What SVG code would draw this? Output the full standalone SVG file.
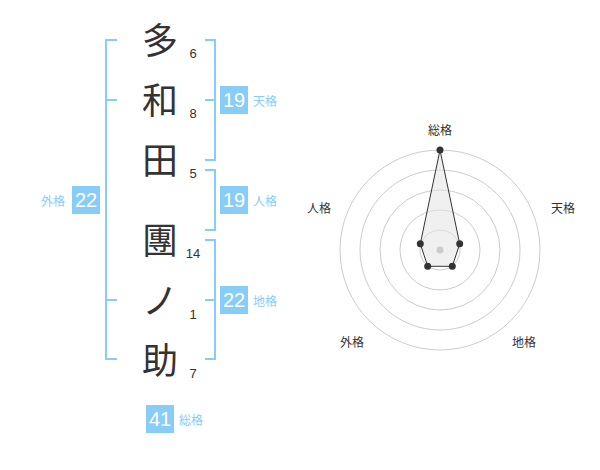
<svg xmlns="http://www.w3.org/2000/svg" width="600" height="470" viewBox="0 0 600 470">
<style>
.k{font-family:"Noto Sans CJK JP","Noto Sans CJK SC",sans-serif;font-size:36px;fill:#333;text-anchor:middle}
.n{font-family:"Liberation Sans",Arial,sans-serif;font-size:13px;fill:#333;text-anchor:middle}
.br{fill:none;stroke:#88ccf8;stroke-width:2}
.box{fill:#88ccf8}
.bt{font-family:"Liberation Sans",Arial,sans-serif;font-size:20px;fill:#fff;text-anchor:middle}
.lb{font-family:"Noto Sans CJK JP","Noto Sans CJK SC",sans-serif;font-size:12px;fill:#88ccf8}
.rl{font-family:"Noto Sans CJK JP","Noto Sans CJK SC",sans-serif;font-size:12px;fill:#333;text-anchor:middle}
.ring{fill:none;stroke:#ccc;stroke-width:1}
.dot{fill:#333}
</style>
<rect width="600" height="470" fill="#fff"/>
<g id="name">
<g id="c1"><text class="k" x="160" y="54">多</text><text class="n" x="193" y="58">6</text></g>
<g id="c2"><text class="k" x="160" y="114">和</text><text class="n" x="193" y="118">8</text></g>
<g id="c3"><text class="k" x="160" y="174">田</text><text class="n" x="193" y="178">5</text></g>
<g id="c4"><text class="k" x="160" y="254">團</text><text class="n" x="193" y="258">14</text></g>
<g id="c5"><text class="k" x="160" y="314">ノ</text><text class="n" x="193" y="319">1</text></g>
<g id="c6"><text class="k" x="160" y="374">助</text><text class="n" x="193" y="378">7</text></g>
</g>
<g id="connectors">
<path class="br" d="M117,40H106V359H117M106,100H117M106,300H117"/>
<path class="br" d="M205,40H215V160H205M205,100H215"/>
<path class="br" d="M205,170H215V230H205"/>
<path class="br" d="M205,240H215V359H205M205,300H215"/>
</g>
<g id="tenkaku"><rect class="box" x="220" y="86" width="28" height="28"/><text class="bt" x="234" y="107">19</text><text class="lb" x="253" y="106">天格</text></g>
<g id="jinkaku"><rect class="box" x="220" y="186" width="28" height="28"/><text class="bt" x="234" y="207">19</text><text class="lb" x="253" y="206">人格</text></g>
<g id="chikaku"><rect class="box" x="220" y="286" width="28" height="28"/><text class="bt" x="234" y="307">22</text><text class="lb" x="253" y="306">地格</text></g>
<g id="gaikaku"><rect class="box" x="72" y="186" width="28" height="28"/><text class="bt" x="86" y="207">22</text><text class="lb" x="41" y="206">外格</text></g>
<g id="soukaku"><rect class="box" x="146" y="405" width="28" height="28"/><text class="bt" x="160" y="426">41</text><text class="lb" x="179" y="425">総格</text></g>
<g id="radar">
<circle class="ring" cx="440" cy="250" r="20"/>
<circle class="ring" cx="440" cy="250" r="40"/>
<circle class="ring" cx="440" cy="250" r="60"/>
<circle class="ring" cx="440" cy="250" r="80"/>
<circle class="ring" cx="440" cy="250" r="100"/>
<polygon points="440,150 459.7,243.8 452.3,266.3 427.7,266.3 420.3,243.8" fill="#e6e6e6" fill-opacity="0.6" stroke="#333" stroke-width="1"/>
<circle cx="440" cy="250" r="3.5" fill="#ccc"/>
<circle class="dot" cx="440" cy="150" r="3.5"/>
<circle class="dot" cx="459.7" cy="243.8" r="3.5"/>
<circle class="dot" cx="452.3" cy="266.3" r="3.5"/>
<circle class="dot" cx="427.7" cy="266.3" r="3.5"/>
<circle class="dot" cx="420.3" cy="243.8" r="3.5"/>
<text class="rl" x="440" y="135">総格</text>
<text class="rl" x="563" y="213">天格</text>
<text class="rl" x="524" y="347">地格</text>
<text class="rl" x="352" y="347">外格</text>
<text class="rl" x="319" y="213">人格</text>
</g>
</svg>
